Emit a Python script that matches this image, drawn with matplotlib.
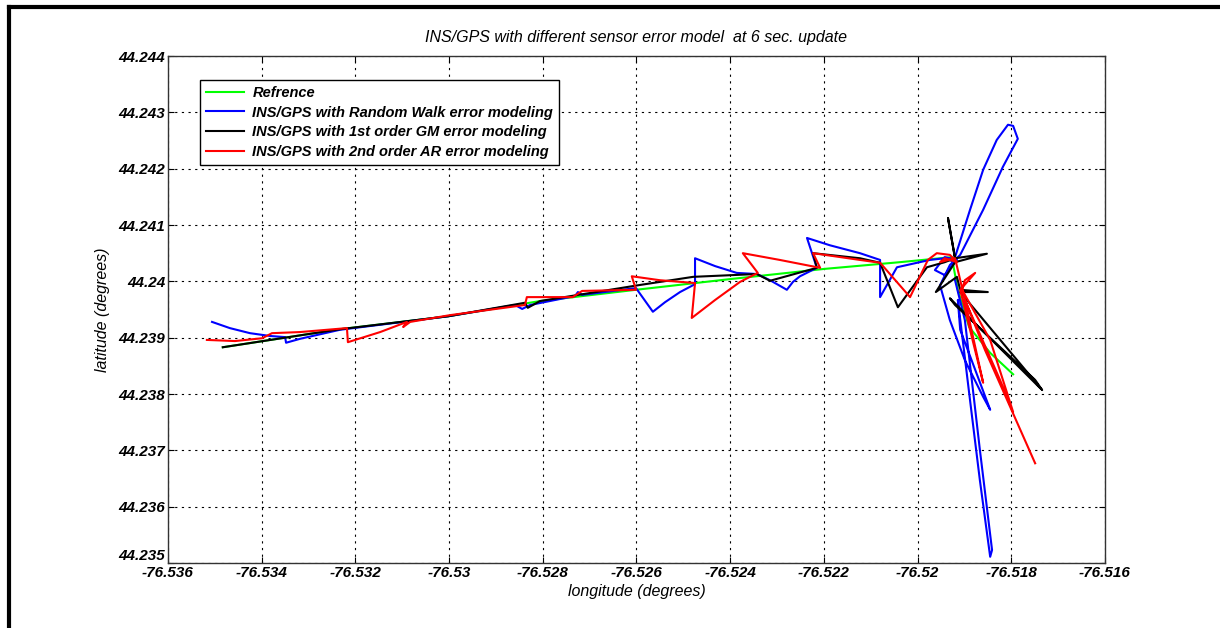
import matplotlib.pyplot as plt
from matplotlib.lines import Line2D

# ---------------------------------------------------------
# INS/GPS trajectory with different sensor error models (6 s GPS update)
# ---------------------------------------------------------

# Reference trajectory
ref_lon = [-76.53483, -76.53233, -76.53002, -76.52806, -76.52601, -76.52400, -76.52200,
           -76.52038, -76.51927, -76.51914, -76.51890, -76.51845, -76.51796]
ref_lat = [44.23883, 44.23915, 44.23938, 44.23965, 44.23985, 44.24004, 44.24022,
           44.24034, 44.24043, 44.23985, 44.23919, 44.23873, 44.23835]

# Random walk error model
rw_lon = [-76.53506, -76.53468, -76.53425, -76.53382, -76.53350, -76.53348, -76.53318, -76.53233,
          -76.53002, -76.52859, -76.52844, -76.52827, -76.52731, -76.52725, -76.52716, -76.52601,
          -76.52565, -76.52539, -76.52507, -76.52475, -76.52475, -76.52432, -76.52386, -76.52343,
          -76.52315, -76.52279, -76.52266, -76.52251, -76.52215, -76.52236, -76.52187, -76.52123,
          -76.52080, -76.52080, -76.52044, -76.51974, -76.51942, -76.51920, -76.51942, -76.51963,
          -76.51942, -76.51916, -76.51920, -76.51888, -76.51860, -76.51831, -76.51807, -76.51796,
          -76.51786, -76.51818, -76.51860, -76.51909, -76.51931, -76.51952, -76.51931, -76.51899,
          -76.51860, -76.51845, -76.51877, -76.51909, -76.51914, -76.51888, -76.51867, -76.51845,
          -76.51841, -76.51867, -76.51899, -76.51920]
rw_lat = [44.23928, 44.23917, 44.23908, 44.23903, 44.23901, 44.23891, 44.23898, 44.23914,
          44.23938, 44.23958, 44.23951, 44.23958, 44.23974, 44.23981, 44.23976, 44.23988,
          44.23946, 44.23963, 44.23981, 44.23995, 44.24041, 44.24027, 44.24015, 44.24013,
          44.24002, 44.23985, 44.23999, 44.24009, 44.24024, 44.24077, 44.24064, 44.24050,
          44.24038, 44.23972, 44.24025, 44.24038, 44.24041, 44.24034, 44.24011, 44.24020,
          44.24043, 44.24038, 44.24043, 44.24127, 44.24198, 44.24251, 44.24278, 44.24276,
          44.24253, 44.24203, 44.24127, 44.24047, 44.24029, 44.23993, 44.23931, 44.23860,
          44.23795, 44.23772, 44.23843, 44.23914, 44.23967, 44.23789, 44.23647, 44.23511,
          44.23523, 44.23701, 44.23931, 44.24002]

# 1st order Gauss-Markov error model
gm_lon = [-76.53483, -76.53233, -76.53002, -76.52838, -76.52832, -76.52806, -76.52597, -76.52479,
          -76.52343, -76.52315, -76.52215, -76.52223, -76.52123, -76.52080, -76.52042, -76.51980,
          -76.51942, -76.51920, -76.51935, -76.51920, -76.51852, -76.51920, -76.51961, -76.51916,
          -76.51909, -76.51850, -76.51909, -76.51734, -76.51749, -76.51920, -76.51931, -76.51739]
gm_lat = [44.23883, 44.23915, 44.23938, 44.23962, 44.23953, 44.23965, 44.23993, 44.24008,
          44.24013, 44.24001, 44.24024, 44.24050, 44.24041, 44.24033, 44.23954, 44.24025,
          44.24034, 44.24041, 44.24112, 44.24041, 44.24049, 44.24034, 44.23981, 44.24008,
          44.23985, 44.23981, 44.23981, 44.23807, 44.23825, 44.23958, 44.23970, 44.23811]

# 2nd order AR error model
ar_lon = [-76.53517, -76.53457, -76.53399, -76.53378, -76.53318, -76.53218, -76.53216, -76.53147,
          -76.53090, -76.53098, -76.53083, -76.52998, -76.52838, -76.52834, -76.52736, -76.52716,
          -76.52601, -76.52610, -76.52550, -76.52475, -76.52482, -76.52432, -76.52379, -76.52341,
          -76.52373, -76.52294, -76.52208, -76.52223, -76.52123, -76.52080, -76.52016, -76.51978,
          -76.51959, -76.51931, -76.51916, -76.51942, -76.51952, -76.51920, -76.51914, -76.51899,
          -76.51860, -76.51888, -76.51909, -76.51877, -76.51899, -76.51905, -76.51845, -76.51796,
          -76.51824, -76.51899, -76.51856, -76.51749]
ar_lat = [44.23896, 44.23894, 44.23899, 44.23908, 44.23910, 44.23917, 44.23892, 44.23910,
          44.23928, 44.23919, 44.23928, 44.23940, 44.23958, 44.23972, 44.23972, 44.23983,
          44.23985, 44.24009, 44.24002, 44.23997, 44.23935, 44.23967, 44.23999, 44.24015,
          44.24050, 44.24038, 44.24024, 44.24050, 44.24038, 44.24033, 44.23972, 44.24038,
          44.24050, 44.24047, 44.24034, 44.24041, 44.24034, 44.24041, 44.24020, 44.23967,
          44.23820, 44.23914, 44.23985, 44.24015, 44.24002, 44.23985, 44.23896, 44.23768,
          44.23825, 44.23967, 44.23878, 44.23677]

xticks = [-76.536, -76.534, -76.532, -76.53, -76.528, -76.526, -76.524, -76.522, -76.52, -76.518, -76.516]
yticks = [44.235, 44.236, 44.237, 44.238, 44.239, 44.24, 44.241, 44.242, 44.243, 44.244]

plt.rcParams['font.family'] = 'Liberation Sans'

fig = plt.figure(figsize=(12.2, 6.28), dpi=100)
ax = fig.add_axes([0.1377, 0.1035, 0.768, 0.8073])

ax.plot(ref_lon, ref_lat, color=(0, 1, 0), linewidth=1.5, label='Refrence')
ax.plot(rw_lon, rw_lat, color=(0, 0, 1), linewidth=1.5, label='INS/GPS with Random Walk error modeling')
ax.plot(gm_lon, gm_lat, color='black', linewidth=1.5, label='INS/GPS with 1st order GM error modeling')
ax.plot(ar_lon, ar_lat, color=(1, 0, 0), linewidth=1.5, label='INS/GPS with 2nd order AR error modeling')

ax.set_xlim(-76.536, -76.516)
ax.set_ylim(44.235, 44.244)
ax.set_xticks(xticks)
ax.set_yticks(yticks)
ax.set_xticklabels([f'{v:g}' for v in xticks], fontsize=11, fontweight='bold', fontstyle='italic')
ax.set_yticklabels([f'{v:g}' for v in yticks], fontsize=11, fontweight='bold', fontstyle='italic')
# lowest latitude label sits a little higher, as in the original
ax.get_yticklabels()[0].set_verticalalignment('bottom')
ax.tick_params(direction='in', top=True, right=True, length=4, pad=2)
ax.grid(True, color='black', linestyle=(0, (2, 4)), linewidth=0.8)
for s in ax.spines.values():
    s.set_linewidth(1.0)
    s.set_color('#333333')

ax.set_title('INS/GPS with different sensor error model  at 6 sec. update',
             fontsize=11.5, fontstyle='italic', pad=10)
ax.set_xlabel('longitude (degrees)', fontsize=11.5, fontstyle='italic', labelpad=3)
ax.set_ylabel('latitude (degrees)', fontsize=11.5, fontstyle='italic', labelpad=6)

leg = ax.legend(loc='upper left', bbox_to_anchor=(0.034, 0.953), borderaxespad=0,
                fancybox=False, edgecolor='black', framealpha=1, handlelength=2.6,
                prop={'weight': 'bold', 'style': 'italic', 'size': 10.5},
                labelspacing=0.4, borderpad=0.4, handletextpad=0.6)
leg.get_frame().set_linewidth(1.0)

# thick frame around the figure (left and top edges)
fig.add_artist(Line2D([0.007, 0.007], [0.0, 0.989], transform=fig.transFigure, color='black', linewidth=3))
fig.add_artist(Line2D([0.007, 1.0], [0.989, 0.989], transform=fig.transFigure, color='black', linewidth=3))

fig.savefig('out.png', dpi=100)
